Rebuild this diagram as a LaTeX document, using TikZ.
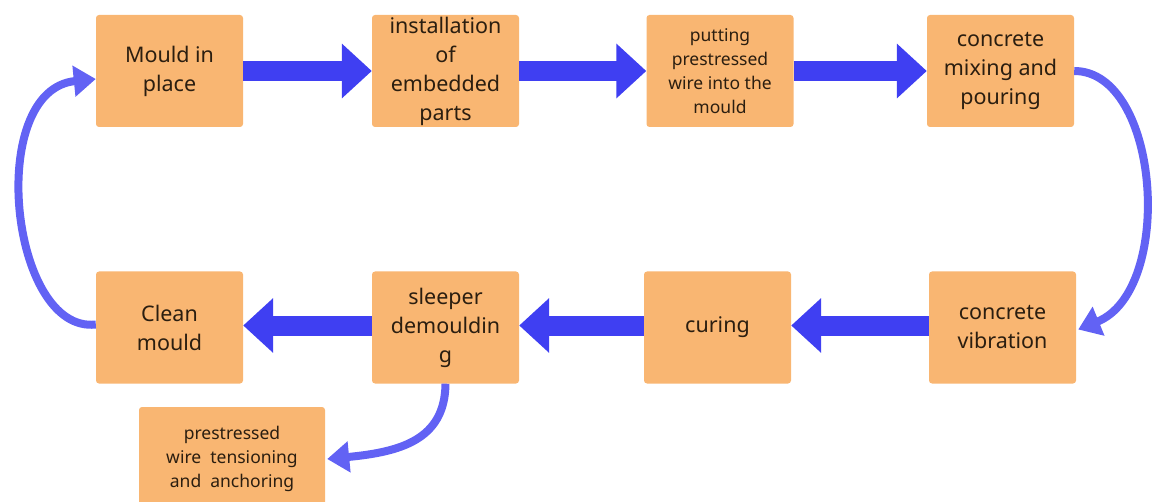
\documentclass[tikz,border=0pt]{standalone}
\usepackage{fontspec}
\setmainfont{Noto Sans}
\usetikzlibrary{arrows.meta}
\definecolor{boxfill}{HTML}{F9B672}
\definecolor{txt}{HTML}{2B1E10}
\definecolor{bigblue}{HTML}{3F3FF2}
\definecolor{arcblue}{HTML}{6262F4}
\tikzset{
  stepbox/.style={fill=boxfill, rounded corners=3pt, minimum width=147pt, minimum height=112pt,
    inner sep=0pt, align=center, text=txt, font=\fontsize{21.5}{29}\selectfont},
  smallbox/.style={stepbox, font=\fontsize{17.5}{24}\selectfont},
  blockarrow/.style={draw=bigblue, line width=20pt, -{Triangle[length=30pt,width=53pt]}},
  arcarrow/.style={draw=arcblue, line width=8pt, -{Triangle[length=22pt,width=30pt]}}
}
\begin{document}
\begin{tikzpicture}[x=1pt,y=-1pt]
\useasboundingbox (0,0) rectangle (1155,502);
\node[stepbox] (mp) at (169.5,71) {Mould in\\place};
\node[stepbox] (inst) at (445.5,71) {installation\\of\\embedded\\parts};
\node[smallbox] (put) at (720,71) {putting\\prestressed\\wire into the\\mould};
\node[stepbox] (mix) at (1000.5,71) {concrete\\mixing and\\pouring};
\node[stepbox] (cm) at (169.5,327.5) {Clean\\mould};
\node[stepbox] (sd) at (445.5,327.5) {sleeper\\demouldin\\g};
\node[stepbox] (cur) at (717.5,327.5) {curing};
\node[stepbox] (vib) at (1002.5,327.5) {concrete\\vibration};
\node[smallbox, minimum width=186pt, minimum height=104pt] (pw) at (232,459) {prestressed\\wire~ tensioning\\and~ anchoring};

\draw[blockarrow] (mp.east) -- (inst.west);
\draw[blockarrow] (inst.east) -- (put.west);
\draw[blockarrow] (put.east) -- (mix.west);
\draw[blockarrow] ([yshift=2pt]vib.west) -- ([yshift=2pt]cur.east);
\draw[blockarrow] ([yshift=2pt]cur.west) -- ([yshift=2pt]sd.east);
\draw[blockarrow] ([yshift=2pt]sd.west) -- ([yshift=2pt]cm.west -| cm.east);

\draw[arcarrow] (mix.east) .. controls (1160,71) and (1175,290) .. ([xshift=2pt,yshift=-2pt]vib.east);
\draw[arcarrow] ([yshift=3pt]cm.west) .. controls (10,334) and (-15,90) .. ([yshift=-8pt]mp.west);
\draw[arcarrow] (sd.south) .. controls (445,440) and (400,452) .. ([xshift=2pt]pw.east);
\end{tikzpicture}
\end{document}
